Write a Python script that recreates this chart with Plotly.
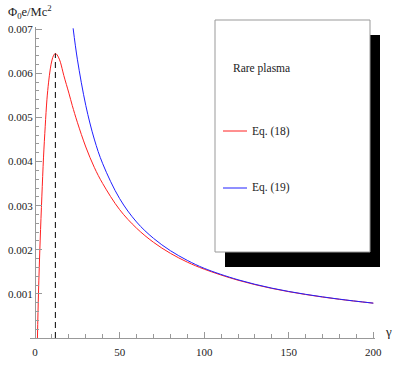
import plotly.graph_objects as go

# gamma values and potential (Phi_0 e / M c^2)
gamma_eq18 = [1.4, 2, 3, 4, 5, 6, 7, 8, 9, 10, 11, 12, 13, 14, 15, 17, 20, 22, 25, 30,
              35, 40, 50, 60, 70, 80, 90, 100, 120, 140, 160, 180, 200]
phi_eq18 = [0.0, 0.0010, 0.0022, 0.0032, 0.0041, 0.0048, 0.0054, 0.0058, 0.0061, 0.0063,
            0.00641, 0.00645, 0.00642, 0.00635, 0.00625, 0.00595, 0.00555, 0.00527, 0.00489,
            0.00433, 0.00387, 0.00350, 0.00291, 0.00249, 0.00217, 0.00192, 0.00172, 0.00156,
            0.00131, 0.001124, 0.000986, 0.000877, 0.00079]

gamma_eq19 = [22.5, 25, 30, 35, 40, 50, 60, 70, 80, 90, 100, 120, 140, 160, 180, 200]
phi_eq19 = [0.00702, 0.00632, 0.00527, 0.00451, 0.00395, 0.00316, 0.00263, 0.00226,
            0.00198, 0.00176, 0.00158, 0.00132, 0.00113, 0.00099, 0.00088, 0.00079]

gamma_peak = 12
phi_peak = 0.00645

y_ticks = [0.001, 0.002, 0.003, 0.004, 0.005, 0.006, 0.007]
x_ticks = [0, 50, 100, 150, 200]

W, H = 414, 371
L, R, T, B = 30, 39, 27, 33
pw, ph = W - L - R, H - T - B


def px(x):
    return (x - L) / pw


def py(y):
    return (H - B - y) / ph


serif = "Liberation Serif, Times New Roman, serif"

fig = go.Figure()
fig.add_trace(go.Scatter(x=gamma_eq18, y=phi_eq18, mode="lines", line=dict(color="#ff2020", width=1, shape="spline")))
fig.add_trace(go.Scatter(x=gamma_eq19, y=phi_eq19, mode="lines", line=dict(color="#2020ff", width=1, shape="spline")))
fig.add_trace(go.Scatter(x=[gamma_peak, gamma_peak], y=[0, phi_peak], mode="lines",
                         line=dict(color="black", width=1, dash="6px,4px")))

axis_col = "#999999"
fig.update_xaxes(
    range=[-3, 201], showgrid=False, zeroline=False, showline=True, linecolor=axis_col, linewidth=1,
    tickvals=x_ticks, ticktext=[str(v) for v in x_ticks], ticks="inside", ticklen=6, tickcolor=axis_col,
    minor=dict(dtick=10, tick0=0, ticks="inside", ticklen=4, tickcolor=axis_col),
    tickfont=dict(family=serif, size=11, color="#222"), ticklabelstandoff=4, automargin=False,
)
fig.update_yaxes(
    range=[0, 0.00705], showgrid=False, zeroline=False, showline=True, linecolor=axis_col, linewidth=1,
    anchor="free", position=px(35), automargin=False,
    tickvals=y_ticks, ticktext=["%.3f" % v for v in y_ticks], ticks="inside", ticklen=6, tickcolor=axis_col,
    minor=dict(dtick=0.0002, tick0=0, ticks="inside", ticklen=3, tickcolor=axis_col),
    tickfont=dict(family=serif, size=11, color="#222"),
)

# legend box with black drop shadow
fig.add_shape(type="rect", xref="paper", yref="paper", x0=px(225), x1=px(380), y0=py(267), y1=py(35),
              fillcolor="black", line=dict(width=0), layer="above")
fig.add_shape(type="rect", xref="paper", yref="paper", x0=px(215), x1=px(370), y0=py(252), y1=py(20),
              fillcolor="white", line=dict(color="#999999", width=1), layer="above")
fig.add_shape(type="line", xref="paper", yref="paper", x0=px(223), x1=px(247), y0=py(131), y1=py(131),
              line=dict(color="#ff2020", width=1), layer="above")
fig.add_shape(type="line", xref="paper", yref="paper", x0=px(223), x1=px(247), y0=py(188), y1=py(188),
              line=dict(color="#2020ff", width=1), layer="above")

texts = [("Rare plasma", 292, 60), ("Eq. (18)", 292, 131), ("Eq. (19)", 292, 188)]
for t, x, y in texts:
    fig.add_annotation(text=t, x=px(x), y=py(y), xref="paper", yref="paper", showarrow=False,
                       font=dict(family=serif, size=11.5, color="#222"))

fig.add_annotation(text="Φ<sub>0</sub>e/Mc<sup>2</sup>", x=px(6), y=py(1), xref="paper", yref="paper",
                   xanchor="left", yanchor="top", showarrow=False,
                   font=dict(family=serif, size=12.5, color="#222"))
fig.add_annotation(text="γ", x=px(394), y=py(341), xref="paper", yref="paper", showarrow=False,
                   font=dict(family=serif, size=13, color="#222"))

fig.update_layout(width=W, height=H, margin=dict(l=L, r=R, t=T, b=B), showlegend=False,
                  plot_bgcolor="white", paper_bgcolor="white")
fig.write_html("out.html", config={"displayModeBar": False},
               post_script="document.body.style.margin='0';")
